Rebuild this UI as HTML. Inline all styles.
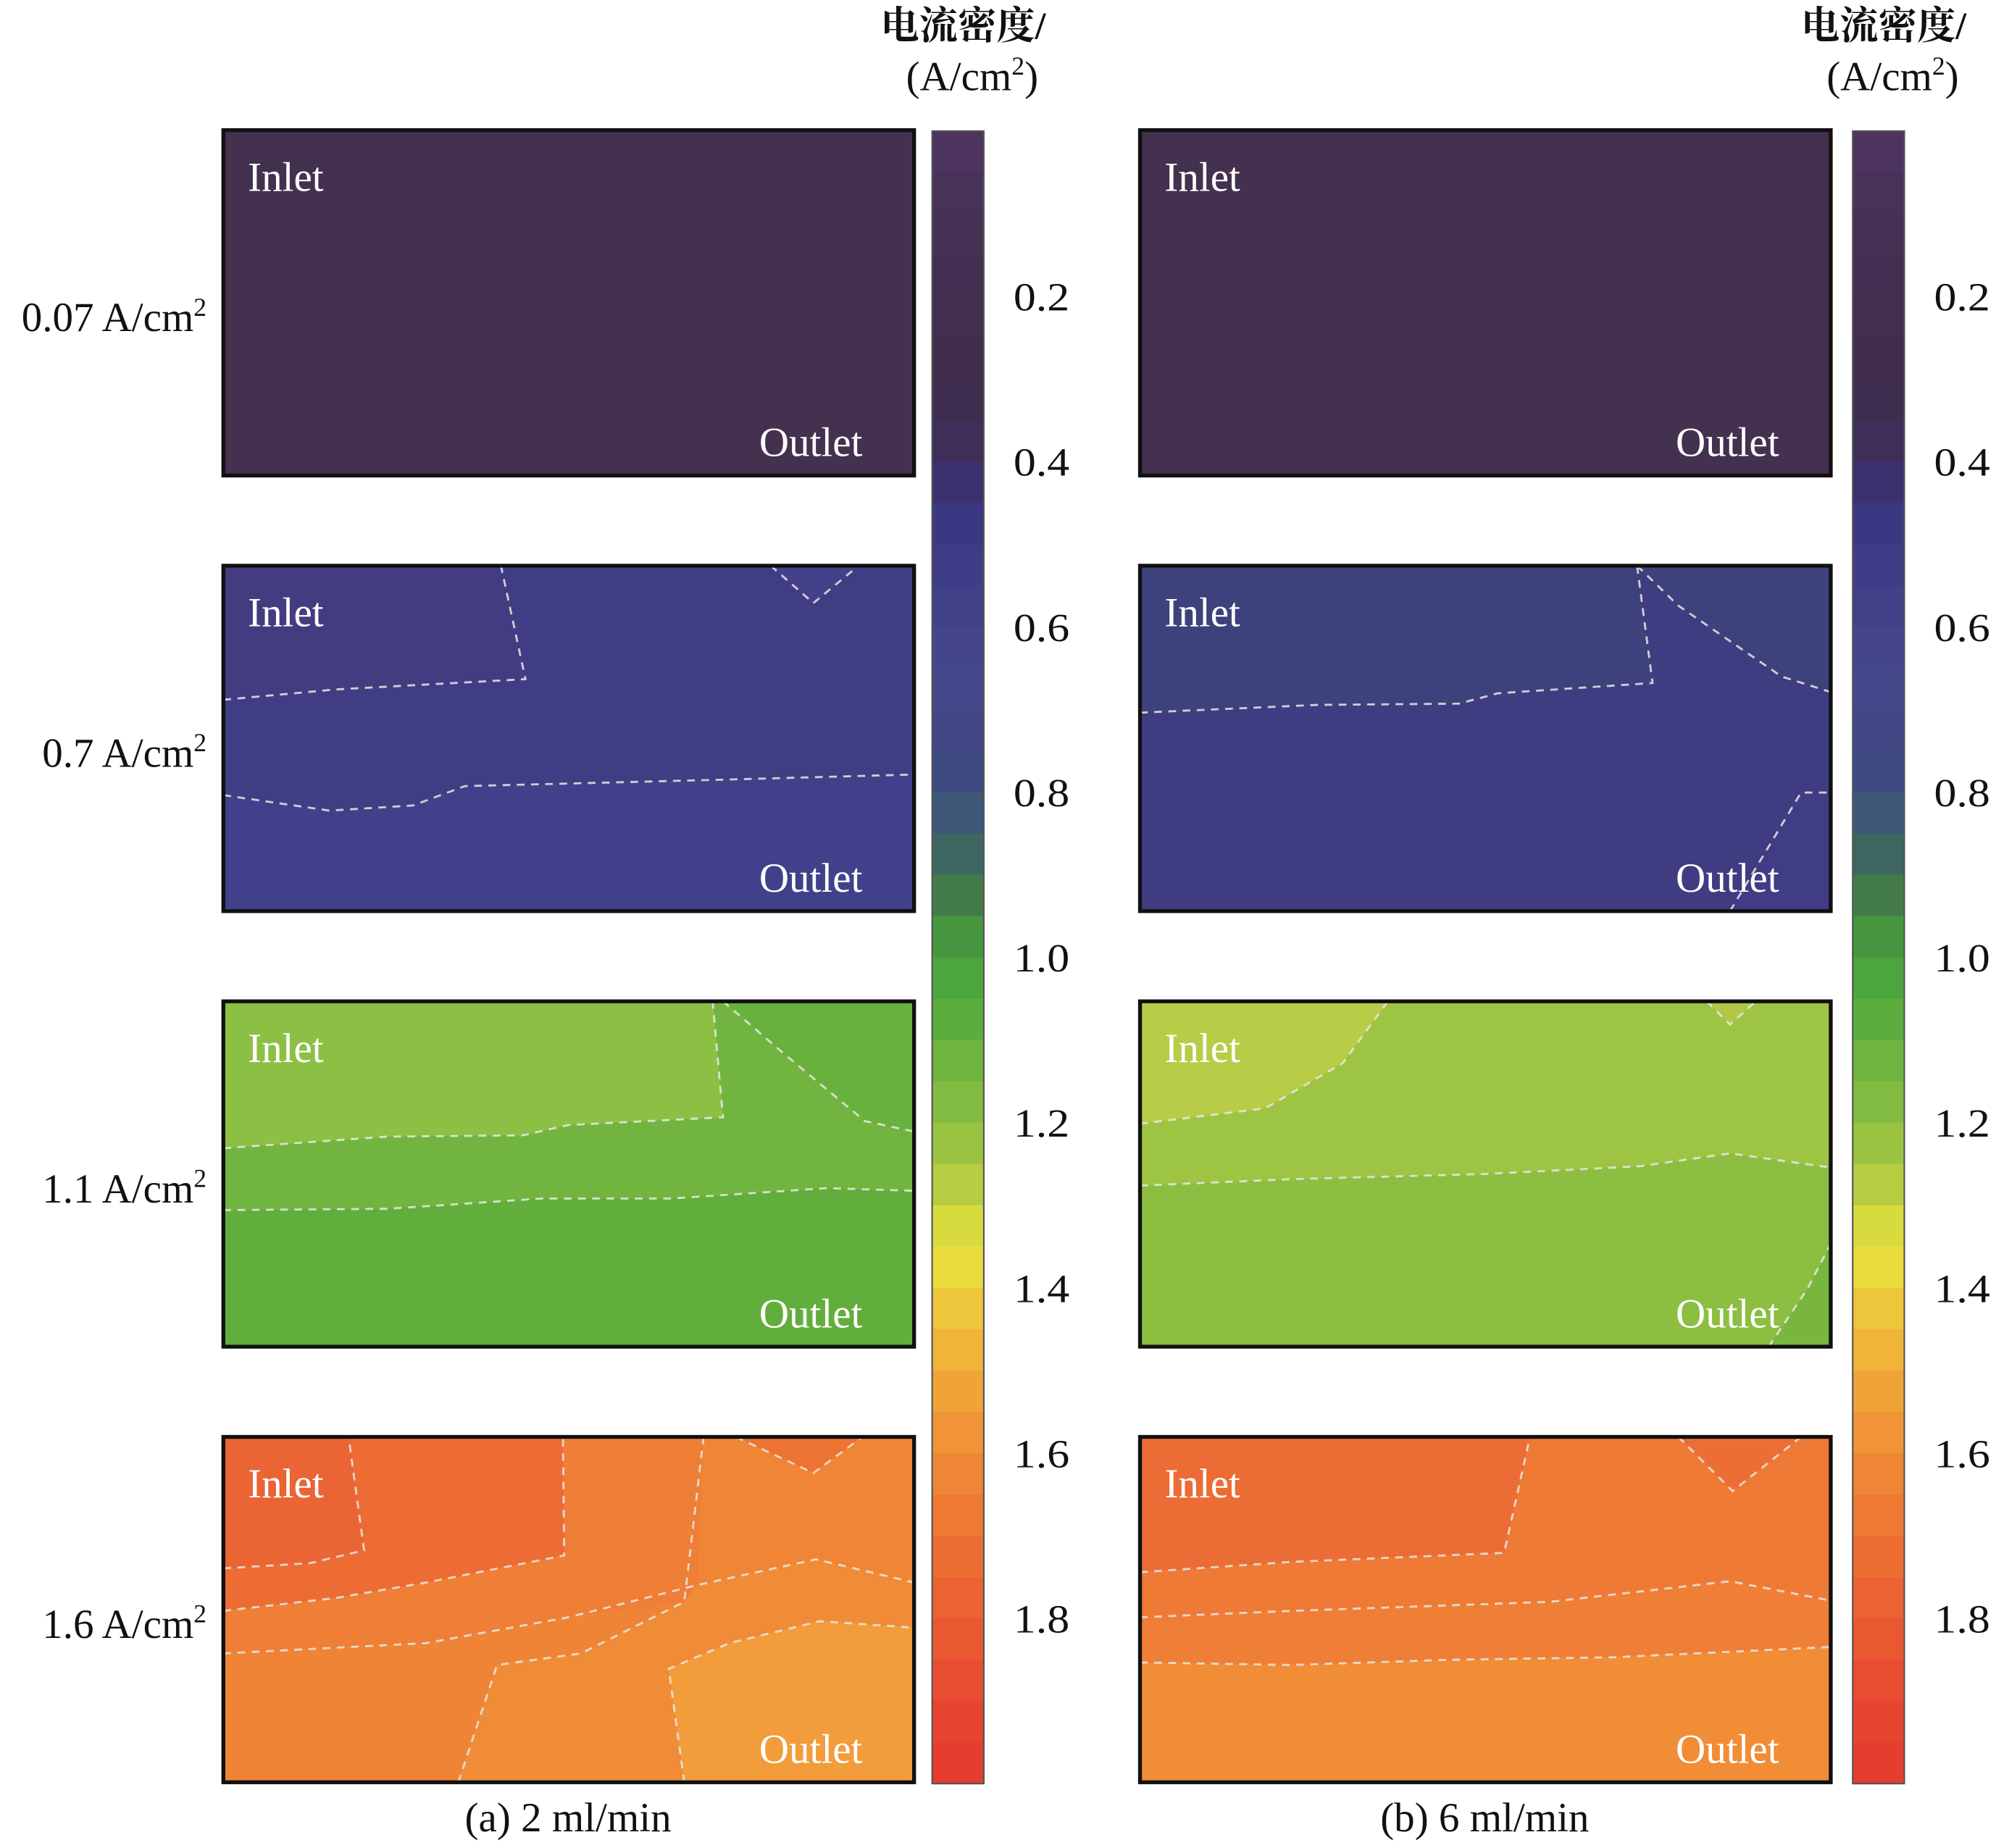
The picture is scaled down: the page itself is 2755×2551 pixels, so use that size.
<!DOCTYPE html>
<html><head><meta charset="utf-8"><style>
html,body{margin:0;padding:0;background:#fff;}
svg{display:block;}
text{font-family:"Liberation Serif","Noto Serif CJK SC",serif;}
</style></head><body>
<svg id="fig" width="2755" height="2551" viewBox="0 0 1546 1434" preserveAspectRatio="none" xmlns="http://www.w3.org/2000/svg"></svg>
<script>
const tickValues=[0.2,0.4,0.6,0.8,1.0,1.2,1.4,1.6,1.8];
const tickLabels=["0.2","0.4","0.6","0.8","1.0","1.2","1.4","1.6","1.8"];
const rowLabels=["0.07 A/cm²","0.7 A/cm²","1.1 A/cm²","1.6 A/cm²"];
const panelCaptions=["(a) 2 ml/min","(b) 6 ml/min"];
const cbStops=[[0,"#4e3560"],[0.15,"#442f52"],[0.3,"#3f2c4a"],[0.4,"#3e2e5c"],[0.45,"#3a3480"],[0.55,"#3f3f88"],[0.65,"#45478c"],[0.75,"#3f4582"],[0.8,"#3c4d80"],[0.85,"#3b6070"],[0.9,"#3f6c50"],[0.95,"#45893f"],[1.0,"#45a23e"],[1.1,"#62b23e"],[1.2,"#8cbe42"],[1.3,"#c6d040"],[1.35,"#e9e63d"],[1.45,"#f0bc3a"],[1.6,"#f08c36"],[1.75,"#ec6833"],[1.9,"#e84831"],[2.0,"#e4392e"]];
const cbMin=0,cbMax=2,cbStep=0.05;
const cbTop=101.7,cbBottom=1384;
const vy=v=>cbTop+(v-cbMin)/(cbMax-cbMin)*(cbBottom-cbTop);
const NS="http://www.w3.org/2000/svg";
const svg=document.getElementById('fig');
function el(t,a,p){const e=document.createElementNS(NS,t);for(const k in a)e.setAttribute(k,a[k]);(p||svg).appendChild(e);return e;}
function hex(c){return [1,3,5].map(i=>parseInt(c.substr(i,2),16));}
function colorAt(v){for(let i=1;i<cbStops.length;i++){if(v<=cbStops[i][0]){const [a,ca]=cbStops[i-1],[b,cb]=cbStops[i];const t=(v-a)/(b-a);const x=hex(ca),y=hex(cb);return "rgb("+x.map((q,j)=>Math.round(q+(y[j]-q)*t)).join(",")+")";}}return cbStops[cbStops.length-1][1];}

const panelX=[173,883],panelW=535,rowY=[101,439,777,1115],rowH=268;
const panelFills=[
 ["#44304f","#44304f"],["#403d84","#3f3c82"],["#72b440","#8cbe42"],["#ef7e36","#ee7a36"]];
const regions={
 "0-1":[["#443c80",[[173,439],[388,439],[407,527],[260,535],[173,543]]],["#41408a",[[173,617],[255,629],[320,625],[360,610],[440,608],[560,605],[708,601],[708,707],[173,707]]],["#44408a",[[597,439],[630,468],[665,439]]]],
 "1-1":[["#3d417c",[[883,439],[1268,439],[1280,530],[1160,538],[1130,546],[1020,547],[883,553]]],["#3d417c",[[1268,439],[1418,439],[1418,537],[1380,525],[1300,470]]],["#413c86",[[1340,707],[1395,615],[1418,615],[1418,707]]]],
 "0-2":[["#8cc044",[[173,777],[552,777],[560,867],[440,873],[405,881],[300,882],[173,891]]],["#62ae3c",[[173,939],[300,938],[420,930],[520,930],[640,922],[708,924],[708,1045],[173,1045]]],["#68b13d",[[560,777],[708,777],[708,878],[670,870],[610,820]]]],
 "1-2":[["#b8cc48",[[883,777],[1075,777],[1040,825],[980,860],[883,872]]],["#9ec444",[[1075,777],[1418,777],[1418,906],[1340,895],[1270,905],[1150,911],[1000,915],[883,920],[883,872],[980,860],[1040,825]]],["#b0c846",[[1322,777],[1340,795],[1360,777]]],["#78b640",[[1370,1045],[1400,1000],[1418,965],[1418,1045]]]],
 "0-3":[["#ec6c34",[[173,1115],[436,1115],[437,1207],[330,1228],[260,1240],[173,1250]]],["#ea6434",[[173,1115],[270,1115],[282,1203],[240,1213],[173,1217]]],["#f08535",[[545,1115],[708,1115],[708,1228],[632,1210],[540,1230]]],["#ef8436",[[173,1283],[330,1275],[440,1255],[530,1243],[450,1283],[385,1292],[355,1383],[173,1383]]],["#f08c37",[[540,1230],[632,1210],[708,1228],[708,1263],[635,1258],[565,1275],[518,1295],[530,1383],[355,1383],[385,1292],[450,1283],[530,1243]]],["#f29c3b",[[530,1383],[518,1295],[565,1275],[635,1258],[708,1263],[708,1383]]],["#ee7434",[[570,1115],[630,1143],[668,1115]]]],
 "1-3":[["#ec6c35",[[883,1115],[1185,1115],[1165,1205],[1000,1212],[883,1220]]],["#ef7f36",[[883,1255],[1000,1250],[1200,1243],[1340,1227],[1418,1242],[1418,1278],[1250,1286],[1120,1288],[1000,1292],[883,1290]]],["#f18c37",[[883,1290],[1000,1292],[1120,1288],[1250,1286],[1418,1278],[1418,1383],[883,1383]]],["#ec6e35",[[1300,1115],[1342,1157],[1395,1115]]]]
};
const contours={
 "0-1":[[[173,543],[260,535],[407,527],[388,439]],[[173,617],[255,629],[320,625],[360,610],[440,608],[560,605],[708,601]],[[597,439],[630,468],[665,439]]],
 "1-1":[[[883,553],[1020,547],[1130,546],[1160,538],[1280,530],[1268,439]],[[1268,439],[1300,470],[1380,525],[1418,537]],[[1340,707],[1395,615],[1418,615]]],
 "0-2":[[[173,891],[300,882],[405,881],[440,873],[560,867],[552,777]],[[560,777],[610,820],[670,870],[708,878]],[[173,939],[300,938],[420,930],[520,930],[640,922],[708,924]]],
 "1-2":[[[883,872],[980,860],[1040,825],[1075,777]],[[883,920],[1000,915],[1150,911],[1270,905],[1340,895],[1418,906]],[[1370,1045],[1400,1000],[1418,965]],[[1322,777],[1340,795],[1360,777]]],
 "0-3":[[[173,1217],[240,1213],[282,1203],[270,1115]],[[173,1250],[260,1240],[330,1228],[437,1207],[436,1115]],[[173,1283],[330,1275],[440,1255],[540,1230],[632,1210],[708,1228]],[[355,1383],[385,1292],[450,1283],[530,1243],[545,1115]],[[530,1383],[518,1295],[565,1275],[635,1258],[708,1263]],[[570,1115],[630,1143],[668,1115]]],
 "1-3":[[[883,1220],[1000,1212],[1165,1205],[1185,1115]],[[883,1255],[1000,1250],[1200,1243],[1340,1227],[1418,1242]],[[883,1290],[1000,1292],[1120,1288],[1250,1286],[1418,1278]],[[1300,1115],[1342,1157],[1395,1115]]]
};
const pts=a=>a.map(p=>p.join(",")).join(" ");
for(let c=0;c<2;c++){
 for(let r=0;r<4;r++){
  const g=el('g',{});
  
  
  el('rect',{x:panelX[c],y:rowY[r],width:panelW,height:rowH,fill:panelFills[r][c]},g);
  (regions[c+"-"+r]||[]).forEach(rg=>{el('polygon',{points:pts(rg[1]),fill:rg[0]},g);});
  (contours[c+"-"+r]||[]).forEach(ln=>{const p=el('polyline',{points:pts(ln),fill:'none',stroke:'#e8e8e0','stroke-width':1.6,'stroke-dasharray':'6,5',opacity:0.85},g);});
  el('rect',{x:panelX[c],y:rowY[r],width:panelW,height:rowH,fill:'none',stroke:'#111',"stroke-width":3},g);
  const t1=el('text',{x:panelX[c]+19,y:rowY[r]+47,fill:'#fff','font-size':32},g);t1.textContent='Inlet';
  
  const t2=el('text',{x:panelX[c]+415,y:rowY[r]+rowH-15,fill:'#fff','font-size':32},g);t2.textContent='Outlet';
  
 }
 const cx=c?1435:722;
 const cbg=el('g',{});
 
 
 for(let v=cbMin;v<cbMax-1e-9;v+=cbStep){
  el('rect',{x:cx,y:vy(v),width:40,height:vy(v+cbStep)-vy(v)+0.6,fill:colorAt(v+cbStep/2)},cbg);
 }
 el('rect',{x:cx,y:cbTop,width:40,height:cbBottom-cbTop,fill:'none',stroke:'#555','stroke-width':1.2},cbg);
 tickValues.forEach((v,i)=>{const t=el('text',{x:cx+63,y:vy(v)+11,'font-size':31,fill:'#111',transform:`translate(${cx+63},0) scale(1.12,1) translate(${-(cx+63)},0)`},cbg);t.textContent=tickLabels[i];});
 const tt=el('text',{x:cx-40,y:30,'font-size':30,'font-weight':'bold',fill:'#111','font-family':'"Noto Serif CJK SC",serif',textLength:128,lengthAdjust:'spacingAndGlyphs'});tt.textContent='电流密度/';
 
 const tu=el('text',{x:cx+31,y:70,'font-size':32,'text-anchor':'middle',fill:'#111'});tu.innerHTML='(A/cm<tspan font-size="20" dy="-12">2</tspan><tspan dy="12">)</tspan>';
 
 const cap=el('text',{x:panelX[c]+267,y:1421,'font-size':32,'text-anchor':'middle',fill:'#111'});cap.textContent=panelCaptions[c];
 
}
rowLabels.forEach((s,r)=>{const t=el('text',{x:160,y:rowY[r]+rowH/2+22,'font-size':32,'text-anchor':'end',fill:'#111'});
 const base=s.replace('²','');t.innerHTML=base+'<tspan font-size="20" dy="-12">2</tspan>';
 });
</script>
</body></html>
